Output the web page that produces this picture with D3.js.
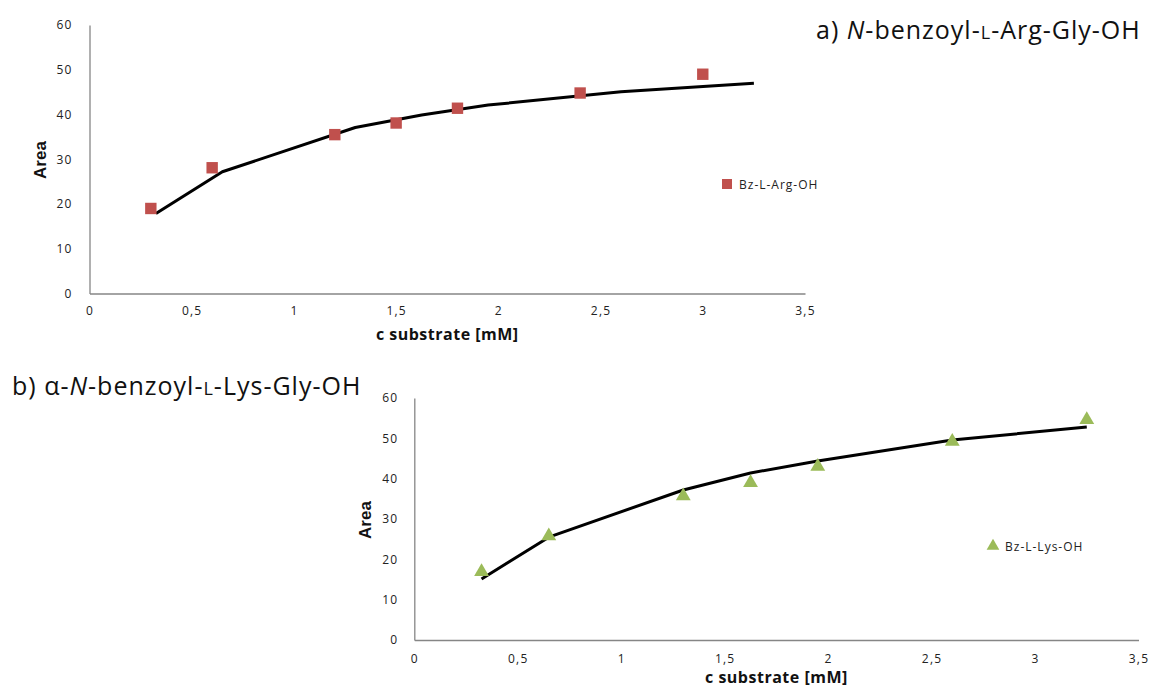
<!DOCTYPE html>
<html>
<head>
<meta charset="utf-8">
<script src="https://cdn.jsdelivr.net/npm/d3@7"></script>
<style>
  html, body { margin: 0; padding: 0; background: #fff; }
  svg { display: block; font-family: "Open Sans", "Noto Sans", sans-serif; }
</style>
</head>
<body>
<svg id="chart" width="1152" height="688"></svg>
<script>
// Substrate concentrations (mM) and measured peak areas
const argX = [0.3, 0.6, 1.2, 1.5, 1.8, 2.4, 3.0];
const argArea = [19.0, 28.1, 35.5, 38.1, 41.4, 44.8, 49.0];
// Fitted curve for the Arg substrate
const argFitX = [0.325, 0.65, 1.3, 1.625, 1.95, 2.6, 3.25];
const argFitArea = [17.9, 27.2, 37.1, 39.9, 42.1, 45.1, 47.0];

const lysX = [0.325, 0.65, 1.3, 1.625, 1.95, 2.6, 3.25];
const lysArea = [16.9, 25.8, 35.7, 39.0, 43.0, 49.2, 54.6];
// Fitted curve for the Lys substrate
const lysFitX = [0.325, 0.65, 1.3, 1.625, 1.95, 2.6, 3.25];
const lysFitArea = [15.1, 25.5, 37.2, 41.4, 44.4, 49.6, 52.8];

const xTicks = [0, 0.5, 1, 1.5, 2, 2.5, 3, 3.5];
const yTicks = [0, 10, 20, 30, 40, 50, 60];

const svg = d3.select("#chart");
const fmt = d => String(d).replace(".", ",");

function panel(cfg) {
  const g = svg.append("g");
  const x = d3.scaleLinear().domain([0, 3.5]).range([cfg.left, cfg.right]);
  const y = d3.scaleLinear().domain([0, 60]).range([cfg.bottom, cfg.top]);

  // axes
  const xAxis = g.append("g").attr("transform", `translate(0,${cfg.bottom})`)
    .call(d3.axisBottom(x).tickValues(xTicks).tickFormat(fmt).tickSize(0).tickPadding(cfg.xPad));
  const yAxis = g.append("g").attr("transform", `translate(${cfg.left},0)`)
    .call(d3.axisLeft(y).tickValues(yTicks).tickSize(0).tickPadding(cfg.yPad));
  [xAxis, yAxis].forEach(a => {
    a.select(".domain").attr("stroke", "#868686").attr("stroke-width", 1.3);
    a.selectAll("text").attr("fill", "#222").style("font-size", "12px")
      .style("letter-spacing", "1.2px")
      .style("font-family", "'Open Sans', sans-serif");
  });

  // axis titles
  g.append("text")
    .attr("x", (cfg.left + cfg.right) / 2 + cfg.xTitleDx).attr("y", cfg.xTitleY)
    .attr("text-anchor", "middle").attr("font-weight", "bold").attr("font-size", 16)
    .attr("letter-spacing", 0.5)
    .attr("fill", "#111").text("c substrate [mM]");
  g.append("text")
    .attr("transform", `translate(${cfg.yTitleX},${cfg.yTitleY}) rotate(-90)`)
    .attr("text-anchor", "middle").attr("font-weight", "bold").attr("font-size", 17)
    .attr("font-family", "'Liberation Sans Narrow', 'Liberation Sans', sans-serif")
    .attr("fill", "#111").text("Area");

  // fitted curve
  const line = d3.line().x(d => x(d[0])).y(d => y(d[1]));
  g.append("path")
    .datum(d3.zip(cfg.fitX, cfg.fitY))
    .attr("d", line).attr("fill", "none").attr("stroke", "#000")
    .attr("stroke-width", 3).attr("stroke-linejoin", "round");

  // data markers
  const sym = d3.symbol().type(cfg.symbol).size(cfg.symSize);
  g.selectAll("path.pt").data(d3.zip(cfg.xs, cfg.ys)).join("path")
    .attr("class", "pt")
    .attr("transform", d => `translate(${x(d[0])},${y(d[1])})`)
    .attr("d", sym).attr("fill", cfg.color);

  // legend
  g.append("path").attr("transform", `translate(${cfg.legX},${cfg.legY})`)
    .attr("d", d3.symbol().type(cfg.symbol).size(cfg.legSize)).attr("fill", cfg.color);
  g.append("text").attr("x", cfg.legX + 12).attr("y", cfg.legY + 4.5)
    .attr("font-size", 12).attr("letter-spacing", 1).attr("fill", "#222").text(cfg.legend);
}

panel({
  left: 89.5, right: 805, top: 25, bottom: 293.5,
  xPad: 13, yPad: 17, xTitleY: 340, xTitleDx: 0, yTitleX: 46, yTitleY: 160,
  xs: argX, ys: argArea, fitX: argFitX, fitY: argFitArea,
  symbol: d3.symbolSquare, symSize: 130, color: "#C0504D",
  legX: 727, legY: 184, legSize: 100, legend: "Bz-L-Arg-OH"
});

panel({
  left: 414.3, right: 1138.5, top: 398, bottom: 640,
  xPad: 14, yPad: 16, xTitleY: 683, xTitleDx: 0, yTitleX: 371, yTitleY: 520,
  xs: lysX, ys: lysArea, fitX: lysFitX, fitY: lysFitArea,
  symbol: d3.symbolTriangle, symSize: 95, color: "#9BBB59",
  legX: 993, legY: 546, legSize: 70, legend: "Bz-L-Lys-OH"
});

// panel titles
const tA = svg.append("text").attr("x", 816).attr("y", 39)
  .attr("font-size", 25).attr("letter-spacing", 1).attr("fill", "#111");
tA.append("tspan").text("a) ");
tA.append("tspan").attr("font-style", "italic").text("N");
tA.append("tspan").text("-benzoyl-");
tA.append("tspan").attr("font-size", 18).text("L");
tA.append("tspan").text("-Arg-Gly-OH");

const tB = svg.append("text").attr("x", 12).attr("y", 395)
  .attr("font-size", 25).attr("letter-spacing", 1).attr("fill", "#111");
tB.append("tspan").text("b) α-");
tB.append("tspan").attr("font-style", "italic").text("N");
tB.append("tspan").text("-benzoyl-");
tB.append("tspan").attr("font-size", 18).text("L");
tB.append("tspan").text("-Lys-Gly-OH");
</script>
</body>
</html>
